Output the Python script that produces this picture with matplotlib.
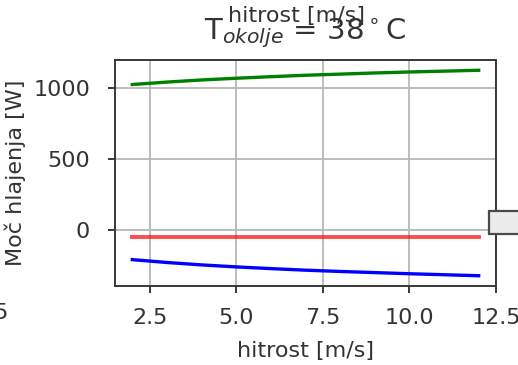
import matplotlib
matplotlib.use("Agg")
import matplotlib.pyplot as plt
from matplotlib.patches import Rectangle

# hitrost vetra [m/s]
hitrost = [2, 3, 4, 5, 6, 7, 8, 9, 10, 11, 12]

# moc hlajenja [W] za posamezne prispevke
moc_zelena = [1025, 1042, 1057, 1069, 1080, 1090, 1098, 1106, 1113, 1119, 1125]
moc_rdeca = [-45, -45, -45, -45, -45, -45, -45, -45, -45, -45, -45]
moc_modra = [-205, -225, -242, -256, -268, -279, -288, -296, -304, -311, -318]

naslov = r'T$_{okolje}$ = 38$^\circ$C'
x_oznaka = 'hitrost [m/s]'
y_oznaka = 'Moč hlajenja [W]'

fig = plt.figure(figsize=(5.18, 3.65), dpi=100)
ax = fig.add_axes([115/518, 1 - 286/365, (496 - 115)/518, (286 - 60)/365])

ax.plot(hitrost, moc_zelena, color='g', lw=2.4)
ax.plot(hitrost, moc_rdeca, color='r', lw=2.8, alpha=0.7)
ax.plot(hitrost, moc_modra, color='b', lw=2.4)

ax.set_xticks([2.5, 5.0, 7.5, 10.0, 12.5])
ax.set_yticks([0, 500, 1000])
ax.set_xlim(1.5, 12.5)
ax.grid(True, color='#b8b8b8', lw=1.3)

for s in ax.spines.values():
    s.set_color('#383838')
    s.set_linewidth(1.4)
ax.tick_params(axis='both', labelsize=16, length=5, width=1.4, color='#383838', labelcolor='#333333')
ax.tick_params(axis='x', pad=11)
ax.tick_params(axis='y', pad=13)

ax.set_xlabel(x_oznaka, fontsize=16, color='#333333', labelpad=9)
ax.set_ylabel(y_oznaka, fontsize=16, color='#333333', labelpad=5)
ax.set_title(naslov, fontsize=21, color='#333333', pad=15)

# ostanki sosednjih grafov (oznaka zgoraj, tick levo, legenda desno)
fig.text(296/518, 1 - 16/365, x_oznaka, fontsize=16, color='#333333', ha='center', va='center')
fig.text(9/518, 1 - 313/365, '12.5', fontsize=16, color='#333333', ha='right', va='center')
fig.patches.append(Rectangle((489/518, 1 - 234/365), 0.2, 23/365, transform=fig.transFigure,
                             facecolor='#ececec', edgecolor='#4a4a4a', lw=1.6, figure=fig))

fig.savefig('out.png', dpi=100)
